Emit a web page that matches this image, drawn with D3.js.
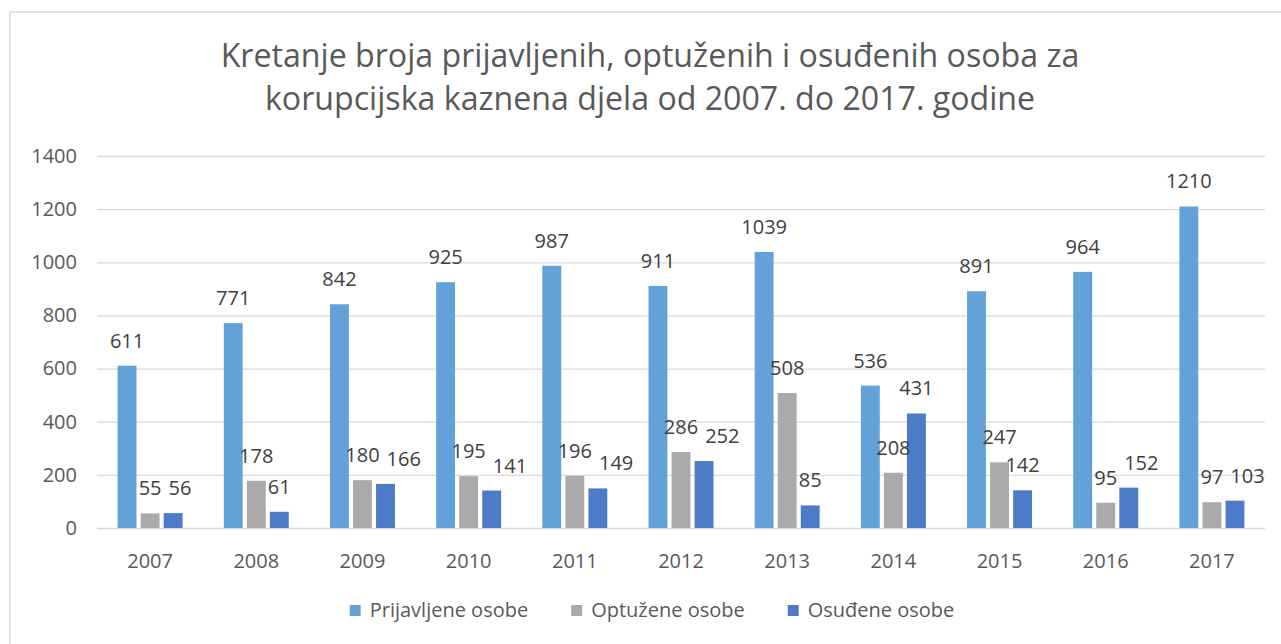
<!DOCTYPE html>
<html><head><meta charset="utf-8">
<script src="https://cdn.jsdelivr.net/npm/d3@7"></script>
<style>
body{margin:0;background:#fff}
svg{display:block}
text{font-family:"Open Sans",sans-serif}
</style>
</head><body>
<svg id="c" width="1281" height="644"></svg>
<script>
const years = ["2007","2008","2009","2010","2011","2012","2013","2014","2015","2016","2017"];
const prijavljene = [611,771,842,925,987,911,1039,536,891,964,1210];
const optuzene = [55,178,180,195,196,286,508,208,247,95,97];
const osudjene = [56,61,166,141,149,252,85,431,142,152,103];
const seriesNames = ["Prijavljene osobe","Optužene osobe","Osuđene osobe"];
const yTicks = [0,200,400,600,800,1000,1200,1400];
const titleLines = ["Kretanje broja prijavljenih, optuženih i osuđenih osoba za","korupcijska kaznena djela od 2007. do 2017. godine"];

(function(){
const colors = ["#63A2D9","#AAAAAA","#4E7BC8"];
const seriesValues = [prijavljene, optuzene, osudjene];

const svg = d3.select("#c");
svg.append("rect").attr("x",0).attr("y",0).attr("width",1281).attr("height",644).attr("fill","#fff");
svg.append("rect").attr("x",10).attr("y",12).attr("width",1300).attr("height",660)
  .attr("fill","none").attr("stroke","#d9d9d9").attr("stroke-width",1.5);

// title
const tg = svg.append("g");
const t1 = tg.append("text").text(titleLines[0]).attr("font-size",29).attr("fill","#595959")
  .attr("text-anchor","middle").attr("x",650).attr("y",67);
const w1 = t1.node().getComputedTextLength();
const tfs = 29*859/w1;
t1.attr("font-size",tfs);
tg.append("text").text(titleLines[1]).attr("font-size",tfs).attr("fill","#595959")
  .attr("text-anchor","middle").attr("x",650).attr("y",110);

const pl = 97, pr = 1265, pt = 156, pb = 528;
const y = d3.scaleLinear().domain([0,1400]).range([pb, pt]);
const x0 = d3.scaleBand().domain(years).range([pl,pr]).paddingInner(0.388).paddingOuter(0.194);
const x1 = d3.scaleBand().domain([0,1,2]).range([0,x0.bandwidth()]).paddingInner(0.18);

// grid + y axis
const ya = svg.append("g").attr("transform",`translate(${pl},0)`)
  .call(d3.axisLeft(y).tickValues(yTicks).tickSize(-(pr-pl)).tickPadding(20).tickFormat(d=>d));
ya.select(".domain").remove();
ya.selectAll("line").attr("stroke","#d9d9d9").attr("stroke-width",1.3);
ya.selectAll("text").attr("font-size",20).attr("fill","#595959").attr("font-family","Open Sans");

// x axis
const xa = svg.append("g").attr("transform",`translate(0,${pb})`)
  .call(d3.axisBottom(x0).tickSize(0).tickPadding(26));
xa.select(".domain").remove();
xa.selectAll("text").attr("font-size",20).attr("fill","#595959").attr("font-family","Open Sans");

// bars
const groups = svg.append("g").selectAll("g").data(years).join("g")
  .attr("transform",d=>`translate(${x0(d)},0)`);
groups.each(function(yr,i){
  const g = d3.select(this);
  seriesValues.forEach((vals,s)=>{
    g.append("rect").attr("x",x1(s)).attr("width",x1.bandwidth())
      .attr("y",y(vals[i])).attr("height",y(0)-y(vals[i])).attr("fill",colors[s]);
  });
});
groups.each(function(yr,i){
  const g = d3.select(this);
  const labels = seriesValues.map((vals,s)=>
    g.append("text").attr("x",x1(s)+x1.bandwidth()/2).attr("y",y(vals[i])-18)
      .attr("text-anchor","middle").attr("font-size",20).attr("fill","#404040")
      .text(vals[i]));
  const gl = labels[1], dl = labels[2];
  const dy = Math.abs(y(seriesValues[1][i]) - y(seriesValues[2][i]));
  if (dy < 16) {
    const wg = gl.node().getComputedTextLength(), wd = dl.node().getComputedTextLength();
    const cg = +gl.attr("x"), cd = +dl.attr("x");
    const shift = Math.max(0, cg + wg/2 + 7 - (cd - wd/2));
    dl.attr("x", cd + shift);
  }
});

// legend
const lg = svg.append("g");
let cx = 0;
seriesNames.forEach((n,s)=>{
  const it = lg.append("g");
  it.append("rect").attr("x",0).attr("y",605).attr("width",11).attr("height",11).attr("fill",colors[s]);
  const tt = it.append("text").attr("x",20).attr("y",617).attr("font-size",20).attr("fill","#595959").text(n);
  const w = 20 + tt.node().getComputedTextLength();
  it.attr("transform",`translate(${cx},0)`);
  cx += w + 43;
});
const total = cx - 43;
lg.attr("transform",`translate(${652 - total/2},0)`);
})();
</script>
</body></html>
